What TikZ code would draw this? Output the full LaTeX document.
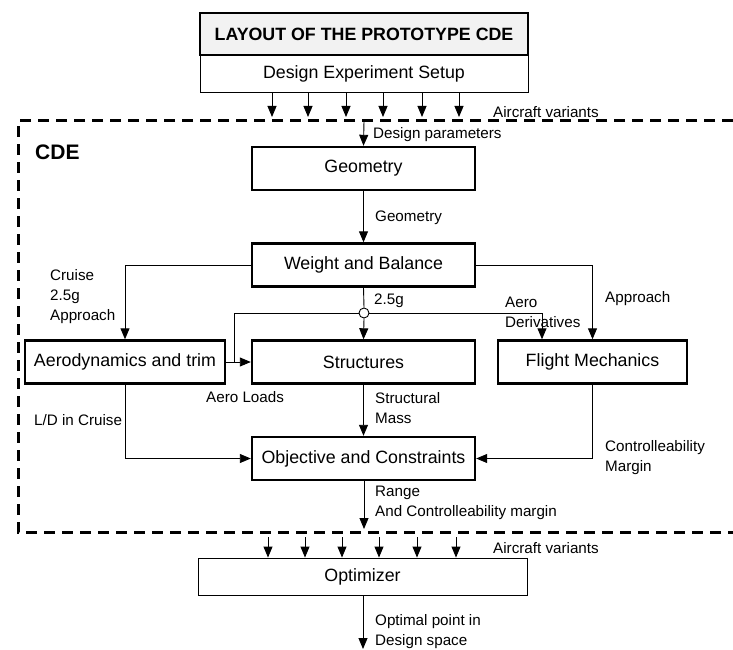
\documentclass[tikz,border=0pt]{standalone}
\usepackage{fontspec}
\setmainfont{Liberation Sans}
\usetikzlibrary{arrows.meta}
\begin{document}
\begin{tikzpicture}[x=1pt,y=-1pt,
  box/.style={draw, line width=2.4pt, minimum width=223pt, minimum height=43pt, inner sep=0pt, font=\fontsize{17.8}{21}\selectfont},
  thinbox/.style={draw, line width=0.9pt, inner sep=0pt, font=\fontsize{17.8}{21}\selectfont},
  lab/.style={font=\fontsize{15.2}{20}\selectfont, align=left, anchor=west, inner sep=0pt},
  arr/.style={line width=0.9pt, -{Triangle[length=11pt,width=9pt]}},
  ln/.style={line width=0.9pt},
  dsh/.style={line width=3pt, dash pattern=on 11pt off 7pt}]
\useasboundingbox (0,0) rectangle (733,650);

% top boxes
\node[thinbox, minimum width=328pt, minimum height=37pt] (des) at (364,73.5) {Design Experiment Setup};
\node[thinbox, fill=gray!10, line width=2.4pt, minimum width=328pt, minimum height=42pt, font=\bfseries\fontsize{17.8}{21}\selectfont] (title) at (364,34) {LAYOUT OF THE PROTOTYPE CDE};

% CDE boxes
\node[box] (geo) at (363.5,168.5) {Geometry};
\node[box] (wb) at (363.5,265) {Weight and Balance};
\node[box, minimum width=200pt] (aero) at (125,362) {Aerodynamics and trim};
\node[box] (st) at (363.5,362) {Structures};
\node[box, minimum width=189pt] (fm) at (592.5,362) {Flight Mechanics};
\node[box] (obj) at (363.5,458.5) {Objective and Constraints};

% optimizer
\node[thinbox, minimum width=329pt, minimum height=37pt] (opt) at (362.5,576.5) {Optimizer};

% dashed CDE frame
\draw[dsh] (733,121) -- (18,121) -- (18,532) -- (733,532);

% arrows from design experiment setup
\foreach \x in {272,308,346,383,422,459} {
  \draw[arr] (des.south -| \x,0) -- (\x,117);
}
% arrows into optimizer
\foreach \x in {268,305,342,379,417,456} {
  \draw[arr] (\x,537) -- (opt.north -| \x,0);
}

% connectors
\coordinate (dp) at (364,121);
\draw[arr] (dp) -- (geo.north);
\draw[arr] (geo.south) -- (wb.north);
\draw[arr] (wb.west) -| (aero.north);
\draw[arr] (wb.east) -| (fm.north);
\node[circle, draw, line width=0.9pt, fill=white, minimum size=10pt, inner sep=0pt] (c) at (364,313) {};
\draw[ln] (wb.south) -- (c.north);
\draw[arr] (c.south) -- (st.north);
\coordinate (cl) at (234,313);
\draw[ln] (c.west) -- (cl) -- (cl |- aero.east);
\draw[arr] (aero.east) -- (st.west);
\coordinate (cr) at (542,313);
\draw[arr] (c.east) -- (cr) -- (cr |- fm.north);
\draw[arr] (aero.south) |- (obj.west);
\draw[arr] (st.south) -- (obj.north);
\draw[arr] (fm.south) |- (obj.east);
\coordinate (rg) at (364,529);
\draw[arr] (obj.south -| rg) -- (rg);
\coordinate (out) at (363,649);
\draw[arr] (opt.south -| out) -- (out);

% labels
\node[lab] (l1) at (493,112) {Aircraft variants};
\node[lab] (l2) at (373,135) {Design parameters};
\node[lab, font=\bfseries\fontsize{21}{25}\selectfont] (l3) at (35,152) {CDE};
\node[lab] (l4) at (375,218) {Geometry};
\node[lab] (l5) at (50,297) {Cruise\\2.5g\\Approach};
\node[lab] (l6) at (605,299) {Approach};
\node[lab] (l7) at (374,301) {2.5g};
\node[lab] (l8) at (505,312) {Aero\\Derivatives};
\node[lab] (l9) at (206,397) {Aero Loads};
\node[lab] (l10) at (34,420) {L/D in Cruise};
\node[lab] (l11) at (375,408) {Structural\\Mass};
\node[lab] (l12) at (605,458) {Controlleability\\Margin};
\node[lab] (l13) at (375,503) {Range\\And Controlleability margin};
\node[lab] (l14) at (493,548) {Aircraft variants};
\node[lab] (l15) at (375,632) {Optimal point in\\Design space};
\end{tikzpicture}
\end{document}
